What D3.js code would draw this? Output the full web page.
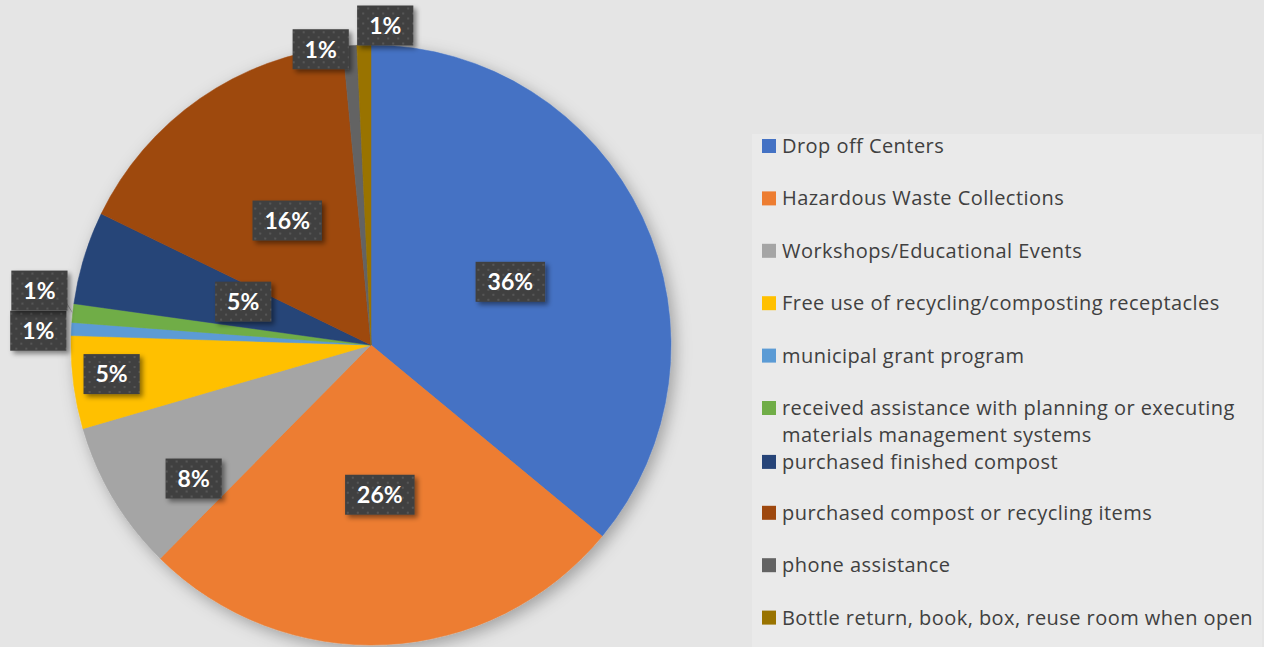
<!DOCTYPE html>
<html>
<head>
<meta charset="utf-8">
<script src="https://cdn.jsdelivr.net/npm/d3@7"></script>
<style>
  html, body { margin: 0; padding: 0; background: #e5e5e5; }
  svg { display: block; }
</style>
</head>
<body>
<svg id="chart" width="1264" height="647"></svg>
<script>
// ---- data ----
const categories = [
  "Drop off Centers",
  "Hazardous Waste Collections",
  "Workshops/Educational Events",
  "Free use of recycling/composting receptacles",
  "municipal grant program",
  "received assistance with planning or executing materials management systems",
  "purchased finished compost",
  "purchased compost or recycling items",
  "phone assistance",
  "Bottle return, book, box, reuse room when open"
];
const values = [36, 26.4, 8.1, 5, 0.7, 1, 5, 16.3, 0.75, 0.75];
const colors = ["#4472C4", "#ED7D31", "#A5A5A5", "#FFC000", "#5B9BD5",
                "#70AD47", "#264478", "#9E480E", "#636363", "#997300"];
const legendLines = [
  ["Drop off Centers"],
  ["Hazardous Waste Collections"],
  ["Workshops/Educational Events"],
  ["Free use of recycling/composting receptacles"],
  ["municipal grant program"],
  ["received assistance with planning or executing", "materials management systems"],
  ["purchased finished compost"],
  ["purchased compost or recycling items"],
  ["phone assistance"],
  ["Bottle return, book, box, reuse room when open"]
];
// label placement: radius factor and angle shift (deg) relative to slice mid-angle
const labelRadius = [0.51, 0.5, 0.74, 0.87, 1.11, 1.12, 0.45, 0.5, 1.0, 1.066];
const labelShift  = [0.8, -0.5, -6.2, 0.8, -0.6, 3.2, 1.8, 0.8, -5.6, 3.9];
const leaderLines = [false, false, false, false, false, true, false, false, false, false];

// ---- layout ----
const svg = d3.select("#chart");
const W = 1264, H = 647;
const cx = 371, cy = 345, R = 300;

const defs = svg.append("defs");
const pieShadow = defs.append("filter").attr("id", "pieShadow")
  .attr("x", "-20%").attr("y", "-20%").attr("width", "140%").attr("height", "140%");
pieShadow.append("feDropShadow").attr("dx", 4).attr("dy", 5)
  .attr("stdDeviation", 8).attr("flood-color", "#000").attr("flood-opacity", 0.3);

const boxShadow = defs.append("filter").attr("id", "boxShadow")
  .attr("x", "-30%").attr("y", "-30%").attr("width", "160%").attr("height", "160%");
boxShadow.append("feDropShadow").attr("dx", 3).attr("dy", 3)
  .attr("stdDeviation", 2.5).attr("flood-color", "#000").attr("flood-opacity", 0.45);

const pat = defs.append("pattern").attr("id", "dots")
  .attr("patternUnits", "userSpaceOnUse").attr("width", 10).attr("height", 10);
pat.append("rect").attr("width", 10).attr("height", 10).attr("fill", "#404040");
pat.append("rect").attr("x", 2).attr("y", 2).attr("width", 2).attr("height", 2).attr("fill", "#575757");
pat.append("rect").attr("x", 7).attr("y", 7).attr("width", 2).attr("height", 2).attr("fill", "#575757");

svg.append("rect").attr("width", W).attr("height", H).attr("fill", "#e5e5e5");

// legend box
svg.append("rect").attr("x", 752).attr("y", 134).attr("width", 510).attr("height", H - 134)
  .attr("fill", "#eaeaea");

const data = categories.map((c, i) => ({ name: c, value: values[i], color: colors[i], i }));
const total = d3.sum(values);

const pie = d3.pie().sort(null).value(d => d.value);
const arcs = pie(data);
const arc = d3.arc().innerRadius(0).outerRadius(R);

const g = svg.append("g").attr("transform", `translate(${cx},${cy})`);
g.append("g").attr("filter", "url(#pieShadow)")
  .selectAll("path").data(arcs).join("path")
  .attr("d", arc)
  .attr("fill", d => d.data.color)
  .attr("stroke", d => d.data.color)
  .attr("stroke-width", 0.5);

// labels
const labelG = g.append("g");
arcs.forEach((a, i) => {
  const mid = (a.startAngle + a.endAngle) / 2 + labelShift[i] * Math.PI / 180;
  const rr = labelRadius[i] * R;
  const lx = rr * Math.sin(mid), ly = -rr * Math.cos(mid);
  const pct = Math.round(a.data.value / total * 100) + "%";
  const grp = labelG.append("g").attr("transform", `translate(${lx},${ly})`);
  const txt = grp.append("text")
    .attr("text-anchor", "middle").attr("dy", "0.36em")
    .attr("font-family", "Lato, 'Open Sans', sans-serif")
    .attr("font-weight", "bold").attr("font-size", 23)
    .attr("fill", "#ffffff").text(pct);
  const tw = txt.node().getComputedTextLength();
  const bw = tw + 24, bh = 40;
  if (leaderLines[i]) {
    const ax = R * Math.sin((a.startAngle + a.endAngle) / 2);
    const ay = -R * Math.cos((a.startAngle + a.endAngle) / 2);
    labelG.insert("line", ":first-child")
      .attr("x1", lx + bw / 2 - 2).attr("y1", ly + bh / 2 - 9)
      .attr("x2", ax).attr("y2", ay)
      .attr("stroke", "#a6a6a6").attr("stroke-width", 1);
  }
  grp.insert("rect", "text")
    .attr("x", -bw / 2).attr("y", -bh / 2).attr("width", bw).attr("height", bh)
    .attr("fill", "url(#dots)").attr("filter", "url(#boxShadow)");
});

// legend
const legendY = d3.scaleLinear().domain([0, categories.length - 1]).range([146, 617.6]);
const leg = svg.append("g");
let prevExtra = 0;
legendLines.forEach((lines, i) => {
  const y = legendY(i) + prevExtra;
  prevExtra = lines.length > 1 ? 1.5 : 0;
  leg.append("rect").attr("x", 762).attr("y", y - 7).attr("width", 14).attr("height", 14)
    .attr("fill", colors[i]);
  lines.forEach((ln, k) => {
    leg.append("text").attr("x", 782).attr("y", y + k * 27).attr("dy", "0.35em")
      .attr("font-family", "'Open Sans', sans-serif").attr("font-size", 20)
      .attr("letter-spacing", 0.45)
      .attr("fill", "#404040").text(ln);
  });
});
</script>
</body>
</html>
